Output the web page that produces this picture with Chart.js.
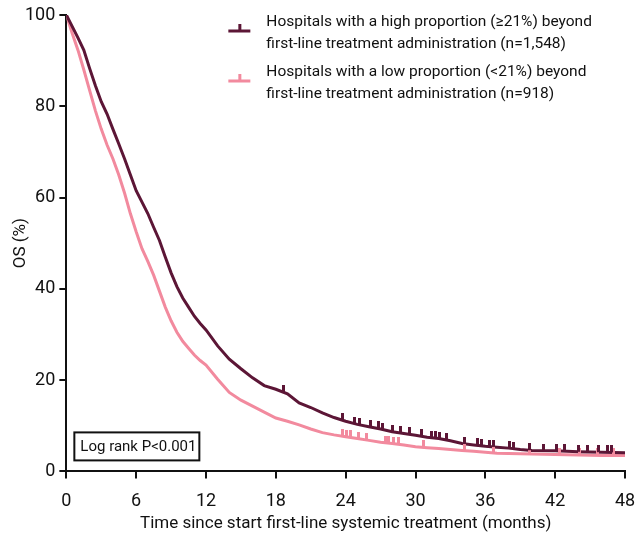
<!DOCTYPE html>
<html>
<head>
<meta charset="utf-8">
<script src="https://cdn.jsdelivr.net/npm/chart.js@4.4.1/dist/chart.umd.min.js"></script>
<style>
  html, body { margin: 0; padding: 0; background: #fff; }
  #wrap { width: 635px; height: 534px; }
</style>
</head>
<body>
<div id="wrap"><canvas id="os"></canvas></div>
<script>
// Kaplan-Meier OS estimates, read per month
const months = [0, 0.5, 1, 1.5, 2, 2.5, 3, 3.5, 4, 4.5, 5, 5.5, 6, 6.5, 7, 7.5, 8, 8.5, 9, 9.5,
  10, 10.5, 11, 11.5, 12, 13, 14, 15, 16, 17, 18, 19, 20, 21, 22, 23, 24, 25, 26, 27, 28, 29,
  30, 31, 32, 33, 34, 35, 36, 37, 38, 39, 40, 42, 44, 46, 48]
const highOS = [100, 97.5, 95, 92.3, 88.3, 84.5, 81, 78.3, 75, 71.8, 68.5, 65, 61.5, 59, 56.5, 53.5, 50.6, 47, 43.5, 40.5,
  38, 36, 34, 32.4, 31, 27.5, 24.6, 22.5, 20.5, 18.8, 18, 17, 15, 14, 12.8, 11.8, 11, 10.3, 9.8, 9.3, 8.7, 8.3,
  7.9, 7.5, 7.2, 6.7, 6.1, 5.8, 5.5, 5.3, 5.1, 4.8, 4.6, 4.5, 4.3, 4.2, 4.1]
const lowOS = [100, 96, 92.3, 88, 83.5, 79, 75, 71.5, 68.5, 65, 61, 56.5, 52.5, 48.8, 46, 43, 39.5, 36, 33, 30.5,
  28.5, 27, 25.5, 24.3, 23.3, 20.2, 17.3, 15.6, 14.3, 13, 11.7, 11, 10.2, 9.3, 8.5, 8, 7.6, 7.2, 6.8, 6.4, 6.1, 5.8,
  5.4, 5.2, 5, 4.8, 4.6, 4.4, 4.2, 4, 3.9, 3.85, 3.8, 3.7, 3.6, 3.5, 3.5]

// censored observations (months)
const highCensor = [18.7, 23.7, 24.8, 25.2, 26.1, 26.8, 27.2, 28, 28.7, 29.5, 30.5, 31.4, 31.7, 32.1, 32.7,
  34.2, 35.3, 35.7, 36.4, 36.7, 38.1, 38.4, 39.8, 41, 42.1, 42.8, 44, 44.8, 45.7, 46.5, 46.8]
const lowCensor = [23.7, 24.1, 24.4, 25.1, 25.8, 27.4, 27.7, 28.1, 28.5, 30.7, 34.2, 36.7, 39.8, 42.4, 44.1, 45.6, 47]

const xTicks = [0, 6, 12, 18, 24, 30, 36, 42, 48]
const yTicks = [0, 20, 40, 60, 80, 100]

const labelsHigh = ['Hospitals with a high proportion (\u226521%) beyond', 'first-line treatment administration (n=1,548)']
const labelsLow = ['Hospitals with a low proportion (<21%) beyond', 'first-line treatment administration (n=918)']
const xTitle = 'Time since start first-line systemic treatment (months)'
const yTitle = 'OS (%)'
const pValueText = 'Log rank P<0.001'

const DARK = '#5c1636'
const PINK = '#f28a9e'
const INK = '#111111'
const FONT = 'Roboto'

// value of a curve at month m (linear between readings)
function curveAt(m, ys) {
  for (let i = 1; i < months.length; i++) {
    if (m <= months[i]) {
      let t = (m - months[i - 1]) / (months[i] - months[i - 1])
      return ys[i - 1] + t * (ys[i] - ys[i - 1])
    }
  }
  return ys[ys.length - 1]
}

// censor mark: a short upward tick, drawn in the top half of the image so it sits on the curve
function censorMark(color, h) {
  let c = document.createElement('canvas')
  c.width = 3
  c.height = h * 2
  let g = c.getContext('2d')
  g.fillStyle = color
  g.fillRect(0, 0, 3, h)
  return c
}

function series(ys) {
  return months.map((m, i) => ({ x: m, y: ys[i] }))
}

function censorSeries(list, ys) {
  return list.map(m => ({ x: m, y: curveAt(m, ys) }))
}

// axis titles, legend and p-value box drawn on top of the plot
const annotations = {
  id: 'annotations',
  afterDraw(chart) {
    let ctx = chart.ctx
    let area = chart.chartArea
    ctx.save()
    ctx.fillStyle = INK
    ctx.textBaseline = 'middle'

    // axis titles
    ctx.font = '17px ' + FONT
    ctx.textAlign = 'center'
    ctx.fillText(xTitle, (area.left + area.right) / 2, area.bottom + 52)
    ctx.save()
    ctx.translate(area.left - 46, (area.top + area.bottom) / 2)
    ctx.rotate(-Math.PI / 2)
    ctx.fillText(yTitle, 0, 0)
    ctx.restore()

    // legend
    ctx.textAlign = 'left'
    ctx.font = '15.5px ' + FONT
    let items = [
      { color: DARK, lines: labelsHigh, y: area.top + 7 },
      { color: PINK, lines: labelsLow, y: area.top + 57 }
    ]
    let iconX = area.left + 162
    items.forEach(item => {
      let lineY = item.y + 9
      ctx.fillStyle = item.color
      ctx.fillRect(iconX, lineY - 1.5, 22, 3)
      ctx.fillRect(iconX + 10, lineY - 7, 3, 6)
      ctx.fillStyle = INK
      item.lines.forEach((t, k) => ctx.fillText(t, iconX + 38, item.y + k * 22))
    })

    // log rank box
    let bx = area.left + 8, by = area.bottom - 39
    ctx.strokeStyle = INK
    ctx.lineWidth = 2
    ctx.strokeRect(bx, by, 125, 28)
    ctx.font = '15px ' + FONT
    ctx.fillText(pValueText, bx + 6, by + 15)
    ctx.restore()
  }
}

let config = {
  type: 'line',
  data: {
    datasets: [
      {
        label: labelsHigh.join(' '),
        data: series(highOS),
        borderColor: DARK,
        borderWidth: 3,
        pointRadius: 0,
        tension: 0,
        order: 2
      },
      {
        label: labelsLow.join(' '),
        data: series(lowOS),
        borderColor: PINK,
        borderWidth: 3,
        pointRadius: 0,
        tension: 0,
        order: 3
      },
      {
        type: 'scatter',
        data: censorSeries(highCensor, highOS),
        pointStyle: censorMark(DARK, 7),
        order: 0
      },
      {
        type: 'scatter',
        data: censorSeries(lowCensor, lowOS),
        pointStyle: censorMark(PINK, 7),
        order: 1
      }
    ]
  },
  options: {
    responsive: true,
    maintainAspectRatio: false,
    animation: false,
    layout: {
      padding: { left: 21, right: 0, top: 15, bottom: 10 }
    },
    plugins: {
      legend: { display: false },
      tooltip: { enabled: false }
    },
    scales: {
      x: {
        type: 'linear',
        min: 0,
        max: 48,
        afterBuildTicks: axis => { axis.ticks = xTicks.map(v => ({ value: v })) },
        // tick padding would otherwise widen the side margins too
        afterFit: axis => { axis.paddingLeft = 0; axis.paddingRight = 10 },
        ticks: { color: INK, font: { family: FONT, size: 18 }, padding: 12, maxRotation: 0 },
        grid: { drawOnChartArea: false, drawTicks: true, tickLength: 7, color: INK, lineWidth: 2 },
        border: { color: INK, width: 2 }
      },
      y: {
        min: 0,
        max: 100,
        afterBuildTicks: axis => { axis.ticks = yTicks.map(v => ({ value: v })) },
        ticks: { color: INK, font: { family: FONT, size: 18 }, padding: 4 },
        grid: { drawOnChartArea: false, drawTicks: true, tickLength: 7, color: INK, lineWidth: 2 },
        border: { color: INK, width: 2 }
      }
    }
  },
  plugins: [annotations]
}

new Chart(document.getElementById('os').getContext('2d'), config)
</script>
</body>
</html>
